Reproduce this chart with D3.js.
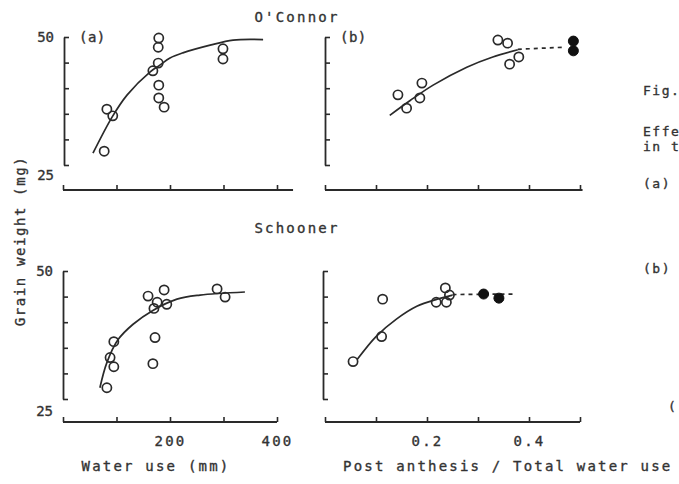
<!DOCTYPE html>
<html><head><meta charset="utf-8">
<script src="https://cdn.jsdelivr.net/npm/d3@7"></script>
<style>
html,body{margin:0;padding:0;background:#fff;}
svg text{font-family:"DejaVu Sans Mono","Liberation Mono",monospace;fill:#333;stroke:#333;stroke-width:0.35px;}
</style></head>
<body>
<svg id="chart" width="679" height="484"></svg>
<script>
// ---- data ----
const cultivars = ["O'Connor", "Schooner"];
const panelLetters = ["(a)", "(b)"];
const waterTicks = [0, 100, 200, 300, 400];
const waterTickLabels = ["", "", "200", "", "400"];
const ratioTicks = [0, 0.1, 0.2, 0.3, 0.4, 0.5];
const ratioTickLabels = ["", "", "0.2", "", "0.4", ""];
const weightTicks = [25, 30, 35, 40, 45, 50];
const weightTickLabels = ["25", "", "", "", "", "50"];
const yTitle = "Grain weight (mg)";
const xTitleWater = "Water use (mm)";
const xTitleRatio = "Post anthesis / Total water use";
const captionLines = ["Fig.", "Effe", "in t", "(a)", "(b)", "("];

// O'Connor, grain weight vs water use
const oconnorWaterOpen = [[77,27.7],[82,35.9],[93,34.6],[179,49.8],[178,48.0],[178,44.9],[168,43.4],[179,40.6],[179,38.1],[189,36.3],[299,47.7],[299,45.7]];
const oconnorWaterFit = [[56,27.3],[92,34.4],[120,38.7],[163,43.2],[181,44.5],[200,45.9],[224,46.9],[275,48.4],[318,49.4],[374,49.5]];
// O'Connor, grain weight vs ratio
const oconnorRatioOpen = [[0.143,38.7],[0.160,36.1],[0.186,38.1],[0.190,41.0],[0.339,49.4],[0.358,48.8],[0.380,46.1],[0.362,44.7]];
const oconnorRatioFilled = [[0.487,49.2],[0.487,47.3]];
const oconnorRatioFit = [[0.127,34.7],[0.167,37.6],[0.212,40.6],[0.278,44.1],[0.329,46.1],[0.378,47.5]];
const oconnorRatioDash = [[0.378,47.6],[0.467,48.0]];
// Schooner, grain weight vs water use
const schoonerWaterOpen = [[82,27.2],[88,33.1],[95,31.3],[95,36.2],[168,31.9],[172,37.0],[159,45.1],[189,46.3],[176,43.9],[170,42.7],[194,43.5],[288,46.5],[303,44.9]];
const schoonerWaterFit = [[69,27.2],[82,32.1],[103,36.6],[131,39.6],[168,42.3],[213,44.5],[256,45.3],[340,45.9]];
// Schooner, grain weight vs ratio
const schoonerRatioOpen = [[0.055,32.3],[0.111,37.2],[0.113,44.5],[0.218,43.9],[0.238,43.9],[0.236,46.7],[0.244,45.3]];
const schoonerRatioFilled = [[0.311,45.5],[0.341,44.7]];
const schoonerRatioFit = [[0.063,32.7],[0.10,37.2],[0.14,40.6],[0.18,43.1],[0.22,44.5],[0.25,45.3]];
const schoonerRatioDash = [[0.25,45.4],[0.37,45.5]];

// ---- drawing ----
const svg = d3.select("#chart");
const ink = "#2a2a2a";
const FS = 14, LS = 2.2;

const xWater = d3.scaleLinear().domain([0, 400]).range([63, 277]);
const xRatio = d3.scaleLinear().domain([0, 0.5]).range([325, 580]);
const yTop = d3.scaleLinear().domain([25, 50]).range([165, 37]);
const yBot = d3.scaleLinear().domain([25, 50]).range([399, 271]);

const panels = [
  {x: xWater, y: yTop, axisY: 190, axisX: 64, ticks: waterTicks, labels: null, yLabels: true, lineEnd: 430, letter: 0,
   open: oconnorWaterOpen, filled: [], fit: oconnorWaterFit, dash: null},
  {x: xRatio, y: yTop, axisY: 190, axisX: 325, ticks: ratioTicks, labels: null, yLabels: false, lineEnd: 0.505, letter: 1,
   open: oconnorRatioOpen, filled: oconnorRatioFilled, fit: oconnorRatioFit, dash: oconnorRatioDash},
  {x: xWater, y: yBot, axisY: 422, axisX: 63, ticks: waterTicks, labels: waterTickLabels, yLabels: true, lineEnd: 400, letter: null,
   open: schoonerWaterOpen, filled: [], fit: schoonerWaterFit, dash: null},
  {x: xRatio, y: yBot, axisY: 422, axisX: 323, ticks: ratioTicks, labels: ratioTickLabels, yLabels: false, lineEnd: 0.5, letter: null,
   open: schoonerRatioOpen, filled: schoonerRatioFilled, fit: schoonerRatioFit, dash: schoonerRatioDash}
];

panels.forEach(p => {
  const g = svg.append("g");
  // x axis
  const labels = p.labels;
  const xa = d3.axisBottom(p.x).tickValues(p.ticks).tickSize(-5).tickSizeOuter(0).tickPadding(14)
    .tickFormat((d, i) => labels ? labels[i] : "");
  const gx = g.append("g").attr("transform", `translate(0,${p.axisY})`).call(xa);
  gx.select(".domain").remove();
  gx.append("line").attr("x1", p.x(p.x.domain()[0])).attr("x2", p.x(p.lineEnd))
    .attr("stroke", ink).attr("stroke-width", 1.8);
  gx.selectAll(".tick line").attr("stroke", ink).attr("stroke-width", 1.6);
  gx.selectAll(".tick text").attr("font-size", FS).attr("letter-spacing", LS).attr("fill", "#333")
    .attr("font-family", "DejaVu Sans Mono");

  // y axis
  const ya = d3.axisLeft(p.y).tickValues(weightTicks).tickSize(-5).tickSizeOuter(0).tickPadding(10)
    .tickFormat((d, i) => p.yLabels ? weightTickLabels[i] : "");
  const gy = g.append("g").attr("transform", `translate(${p.axisX},0)`).call(ya);
  gy.select(".domain").attr("stroke", ink).attr("stroke-width", 1.8);
  gy.selectAll(".tick line").attr("stroke", ink).attr("stroke-width", 1.6);
  gy.selectAll(".tick text").attr("font-size", FS).attr("letter-spacing", 0).attr("fill", "#333")
    .attr("font-family", "DejaVu Sans Mono")
    .attr("dy", d => d === 25 ? (p.y === yTop ? "1.0em" : "1.2em") : "0.32em");

  // fitted curve
  const line = d3.line().x(d => p.x(d[0])).y(d => p.y(d[1])).curve(d3.curveCatmullRom.alpha(0.5));
  g.append("path").attr("d", line(p.fit)).attr("fill", "none").attr("stroke", ink).attr("stroke-width", 1.7);
  if (p.dash) {
    g.append("path").attr("d", d3.line().x(d => p.x(d[0])).y(d => p.y(d[1]))(p.dash))
      .attr("fill", "none").attr("stroke", ink).attr("stroke-width", 1.7).attr("stroke-dasharray", "4,4");
  }
  // points
  g.selectAll("circle.open").data(p.open).join("circle").attr("class", "open")
    .attr("cx", d => p.x(d[0])).attr("cy", d => p.y(d[1])).attr("r", 4.6)
    .attr("fill", "none").attr("stroke", ink).attr("stroke-width", 1.7);
  g.selectAll("circle.filled").data(p.filled).join("circle").attr("class", "filled")
    .attr("cx", d => p.x(d[0])).attr("cy", d => p.y(d[1])).attr("r", 5)
    .attr("fill", "#111").attr("stroke", "#111").attr("stroke-width", 1);

  if (p.letter !== null) {
    g.append("text").attr("x", p.axisX + 15).attr("y", p.y(50)).attr("dy", "0.35em")
      .attr("font-size", FS).attr("letter-spacing", 0.5).text(panelLetters[p.letter]);
  }
});

// cultivar titles
svg.append("text").attr("x", 297).attr("y", 17).attr("dy", "0.35em").attr("text-anchor", "middle")
  .attr("font-size", FS).attr("letter-spacing", LS).text(cultivars[0]);
svg.append("text").attr("x", 297).attr("y", 228).attr("dy", "0.35em").attr("text-anchor", "middle")
  .attr("font-size", FS).attr("letter-spacing", LS).text(cultivars[1]);

// axis titles
svg.append("text").attr("transform", "translate(20,241) rotate(-90)").attr("dy", "0.35em")
  .attr("text-anchor", "middle").attr("font-size", FS).attr("letter-spacing", 1.6).text(yTitle);
svg.append("text").attr("x", 156).attr("y", 466).attr("dy", "0.35em").attr("text-anchor", "middle")
  .attr("font-size", FS).attr("letter-spacing", LS).text(xTitleWater);
svg.append("text").attr("x", 343).attr("y", 466).attr("dy", "0.35em")
  .attr("font-size", FS).attr("letter-spacing", LS).text(xTitleRatio);

// cropped caption at right
const capY = [90, 131, 146, 183, 268, 406];
const capX = [643, 643, 643, 643, 643, 668];
captionLines.forEach((t, i) => {
  svg.append("text").attr("x", capX[i]).attr("y", capY[i]).attr("dy", "0.35em")
    .attr("font-size", 13).attr("letter-spacing", 1.5).text(t);
});
</script>
</body></html>
